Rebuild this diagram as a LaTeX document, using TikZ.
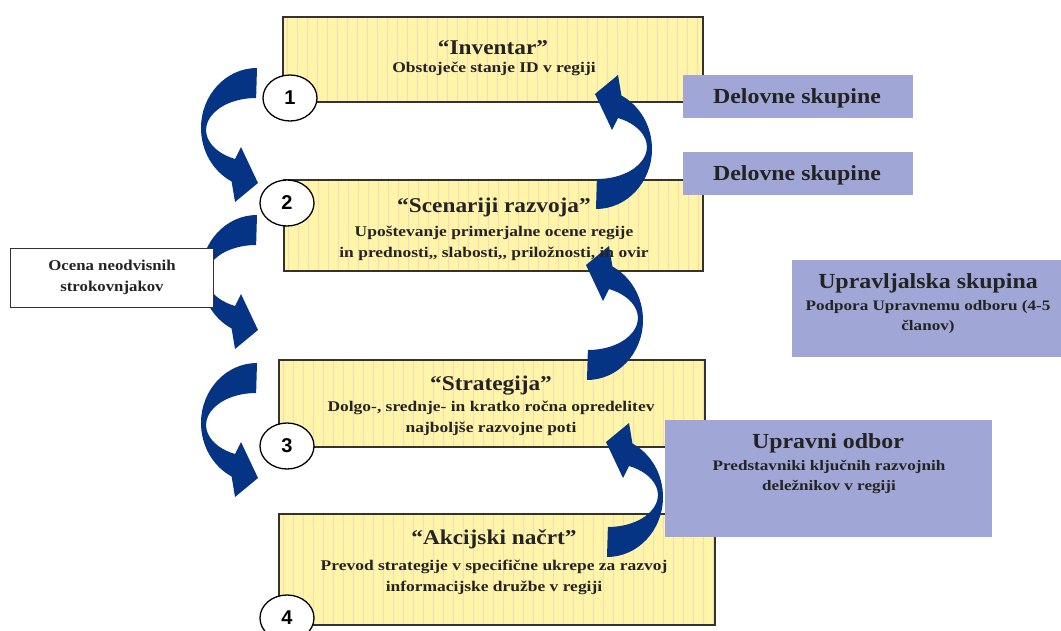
\documentclass[tikz,border=0pt]{standalone}
\usepackage{fontspec}
\setmainfont{Liberation Serif}
\newfontfamily\numfont{Liberation Sans}
\newfontfamily\ttlfont[FakeStretch=1.11]{Liberation Serif}
\newfontfamily\subfont[FakeStretch=1.18]{Liberation Serif}
\newfontfamily\notefont[FakeStretch=1.12]{Liberation Serif}
\usetikzlibrary{shapes.geometric}
\definecolor{boxyellow}{RGB}{255,245,168}
\definecolor{stripecol}{RGB}{250,214,186}
\definecolor{grpblue}{RGB}{160,167,214}
\definecolor{arrowblue}{RGB}{6,52,132}
\definecolor{txt}{RGB}{35,35,35}
\definecolor{edge}{RGB}{50,50,50}
\tikzset{
  stagebox/.style={draw=edge, line width=1.5pt, fill=boxyellow, inner sep=0pt,
    path picture={\foreach \i in {4,14,...,440}
      \draw[stripecol, line width=0.8pt] ([xshift=\i pt]path picture bounding box.north west) -- ([xshift=\i pt]path picture bounding box.south west);}},
  groupbox/.style={fill=grpblue, inner sep=0pt},
  notebox/.style={draw=edge, line width=1pt, fill=white, inner sep=0pt},
  numcirc/.style={ellipse, draw=black, line width=1.3pt, fill=white, minimum width=54pt, minimum height=46pt, inner sep=0pt, font=\numfont\bfseries\fontsize{20}{20}\selectfont},
  titletext/.style={text=txt, font=\ttlfont\bfseries\fontsize{21}{24}\selectfont, inner sep=0pt},
  subtext/.style={text=txt, font=\subfont\bfseries\fontsize{14.8}{21}\selectfont, inner sep=0pt, align=center},
  grouptitle/.style={text=txt, font=\ttlfont\bfseries\fontsize{21.5}{24}\selectfont, inner sep=0pt},
  groupsub/.style={text=txt, font=\subfont\bfseries\fontsize{14.5}{20}\selectfont, inner sep=0pt, align=center},
  notetext/.style={text=txt, font=\notefont\bfseries\fontsize{15}{21}\selectfont, inner sep=0pt, align=center},
  curvearrow/.style={fill=arrowblue}
}
\newcommand{\leftcurve}{%
  \fill[curvearrow] (0,0) arc[start angle=270, end angle=117, x radius=56, y radius=60]
    -- (-22,134) -- (1,115) -- (-16,79) -- (-22,91)
    arc[start angle=115, end angle=270, x radius=50, y radius=32] -- cycle;}
\begin{document}
\begin{tikzpicture}[x=1pt,y=-1pt]
\useasboundingbox (0,0) rectangle (1061,630);
\begin{scope}
\clip (0,0) rectangle (1061,630);
% stage boxes
\node[stagebox, minimum width=420pt, minimum height=85pt] (b1) at (493,59.5) {};
\node[stagebox, minimum width=419pt, minimum height=91pt] (b2) at (493.5,225.5) {};
\node[stagebox, minimum width=426pt, minimum height=87pt] (b3) at (492,403.5) {};
\node[stagebox, minimum width=436pt, minimum height=111pt] (b4) at (497,569.5) {};
% curved arrows, left side
\begin{scope}[shift={(257,68)}]\leftcurve\end{scope}
\begin{scope}[shift={(257,215)}]\leftcurve\end{scope}
\begin{scope}[shift={(257,363)}]\leftcurve\end{scope}
% curved arrows, right side
\begin{scope}[shift={(596,209)}, rotate=180]\leftcurve\end{scope}
\begin{scope}[shift={(587,380)}, rotate=180]\leftcurve\end{scope}
\begin{scope}[shift={(607,557)}, rotate=180]\leftcurve\end{scope}
% group boxes
\node[groupbox, minimum width=230pt, minimum height=43pt] (d1) at (798,96.5) {};
\node[groupbox, minimum width=230pt, minimum height=43pt] (d2) at (798,173.5) {};
\node[groupbox, minimum width=269pt, minimum height=97pt] (us) at (926.5,308.5) {};
\node[groupbox, minimum width=327pt, minimum height=117pt] (uo) at (828.5,478.5) {};
\node[notebox, minimum width=203pt, minimum height=59pt] (oc) at (111.5,277.5) {};
% numbers
\node[numcirc] (c1) at (290,98) {1};
\node[numcirc] (c2) at (287,203) {2};
\node[numcirc] (c3) at (287,446) {3};
\node[numcirc] (c4) at (287,618) {4};
% texts
\node[titletext] (t1) at (493,48) {“Inventar”};
\node[subtext] (s1) at (494,69) {Obstoječe stanje ID v regiji};
\node[titletext] (t2) at (494,207) {“Scenariji razvoja”};
\node[subtext] (s2) at (494,243) {Upoštevanje primerjalne ocene regije\\in prednosti,, slabosti,, priložnosti, in ovir};
\node[titletext] (t3) at (491,386) {“Strategija”};
\node[subtext] (s3) at (491,418) {Dolgo-, srednje- in kratko ročna opredelitev\\najboljše razvojne poti};
\node[titletext] (t4) at (494,539) {“Akcijski načrt”};
\node[subtext] (s4) at (494,577) {Prevod strategije v specifične ukrepe za razvoj\\informacijske družbe v regiji};
\node[grouptitle] (dt1) at (797,98) {Delovne skupine};
\node[grouptitle] (dt2) at (797,175) {Delovne skupine};
\node[grouptitle] (ust) at (928,283) {Upravljalska skupina};
\node[groupsub] (uss) at (928,317) {Podpora Upravnemu odboru (4-5\\članov)};
\node[grouptitle] (uot) at (828,443) {Upravni odbor};
\node[groupsub] (uos) at (829,477) {Predstavniki ključnih razvojnih\\deležnikov v regiji};
\node[notetext] (oct) at (112,277.5) {Ocena neodvisnih\\strokovnjakov};
\end{scope}
\end{tikzpicture}
\end{document}
